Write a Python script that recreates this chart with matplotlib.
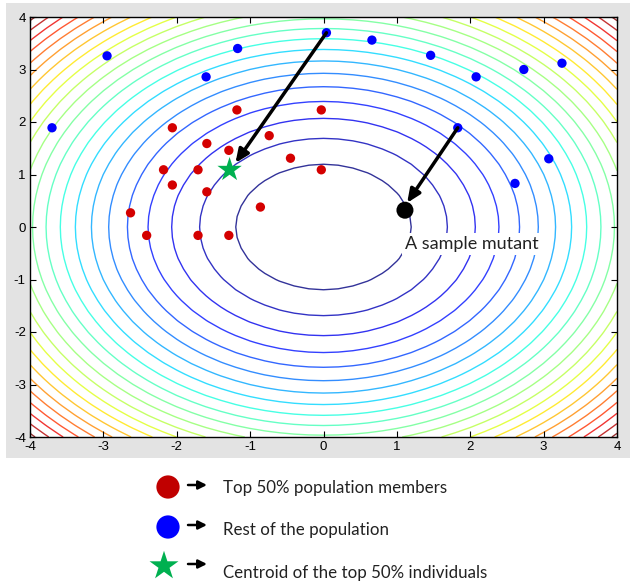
import numpy as np
import matplotlib
matplotlib.use("Agg")
import matplotlib.pyplot as plt
from matplotlib.patches import Rectangle

plt.rcParams["axes.unicode_minus"] = False

# ---- data ----
top_x = [-1.18, -2.06, -0.74, -1.59, -1.29, -0.45, -2.18, -1.71, -0.03, -2.06, -1.59, -2.63, -0.86, -2.41, -1.71, -1.29, -0.03]
top_y = [2.23, 1.89, 1.74, 1.59, 1.46, 1.31, 1.09, 1.09, 1.09, 0.80, 0.67, 0.27, 0.38, -0.16, -0.16, -0.16, 2.23]
rest_x = [-3.70, -2.95, -1.17, -1.60, 0.04, 0.66, 1.46, 2.08, 2.73, 3.25, 1.83, 3.07, 2.61]
rest_y = [1.89, 3.26, 3.40, 2.86, 3.70, 3.56, 3.27, 2.86, 3.00, 3.12, 1.89, 1.30, 0.83]
centroid = (-1.28, 1.09)
mutant = (1.11, 0.32)
arrow1_from, arrow1_to = (0.04, 3.70), (-1.20, 1.22)
arrow2_from, arrow2_to = (1.83, 1.89), (1.14, 0.46)
levels = [1.43 * k for k in range(1, 23)]
ticks = [-4, -3, -2, -1, 0, 1, 2, 3, 4]
legend_labels = ["Top 50% population members", "Rest of the population",
                 "Centroid of the top 50% individuals"]
mutant_label = "A sample mutant"

W, H = 636, 585
fig = plt.figure(figsize=(W / 100, H / 100), dpi=100)
fig.patch.set_facecolor("white")
# gray MATLAB-like panel
fig.add_artist(Rectangle((6 / W, 1 - 458 / H), 624 / W, 455 / H,
                         transform=fig.transFigure, facecolor="#e3e3e3",
                         edgecolor="none", zorder=0))

ax = fig.add_axes([30 / W, 1 - 437 / H, 587 / W, 420 / H])
ax.set_facecolor("white")
g = np.linspace(-4, 4, 41)
X, Y = np.meshgrid(g, g)
Z = X ** 2 + Y ** 2
ax.contour(X, Y, Z, levels=levels, cmap="jet", vmin=levels[0], vmax=levels[-1],
           linewidths=1.0, alpha=0.8, zorder=1)

ax.scatter(top_x, top_y, s=45, color="#d40000", edgecolors="none", zorder=3)
ax.scatter(rest_x, rest_y, s=45, color="#0000ff", edgecolors="none", zorder=3)
ax.scatter([centroid[0]], [centroid[1]], marker="*", s=340, color="#00b050",
           edgecolors="none", zorder=4)
ax.scatter([mutant[0]], [mutant[1]], s=150, color="black", edgecolors="none", zorder=4)

for a, b in [(arrow1_from, arrow1_to), (arrow2_from, arrow2_to)]:
    ax.annotate("", xy=b, xytext=a,
                arrowprops=dict(arrowstyle="-|>,head_length=0.8,head_width=0.35",
                                color="black", lw=2.5, shrinkA=0, shrinkB=0),
                zorder=5)

ax.text(1.11, -0.32, mutant_label, fontsize=13, family=["Lato", "DejaVu Sans"],
        color="#222222", va="center", ha="left", zorder=6,
        bbox=dict(facecolor="white", edgecolor="none", pad=2))

ax.set_xlim(-4, 4)
ax.set_ylim(-4, 4)
ax.set_xticks(ticks)
ax.set_yticks(ticks)
ax.tick_params(direction="in", top=True, right=True, length=4, labelsize=9.5,
               pad=3)
for lab in ax.get_xticklabels() + ax.get_yticklabels():
    lab.set_family(["Liberation Sans", "DejaVu Sans"])
for sp in ax.spines.values():
    sp.set_linewidth(1.0)

# legend area
lax = fig.add_axes([0, 0, 1, 1])
lax.set_xlim(0, W)
lax.set_ylim(H, 0)
lax.axis("off")
rows = [(168, 487, "o", "#c00000", 280), (168, 527, "o", "#0000ff", 280),
        (164, 566, "*", "#00b050", 480)]
text_y = [488, 530, 573]
for (mx, my, mk, c, s), ty, lab in zip(rows, text_y, legend_labels):
    lax.scatter([mx], [my], marker=mk, s=s, color=c, edgecolors="none")
    lax.annotate("", xy=(207, my - 2), xytext=(188, my - 2),
                 arrowprops=dict(arrowstyle="-|>,head_length=0.5,head_width=0.25",
                                 color="black", lw=1.8, shrinkA=0, shrinkB=0))
    lax.text(223, ty, lab, fontsize=12.2, family=["Lato", "DejaVu Sans"],
             color="#222222", va="center", ha="left")

fig.savefig("out.png", dpi=100)
